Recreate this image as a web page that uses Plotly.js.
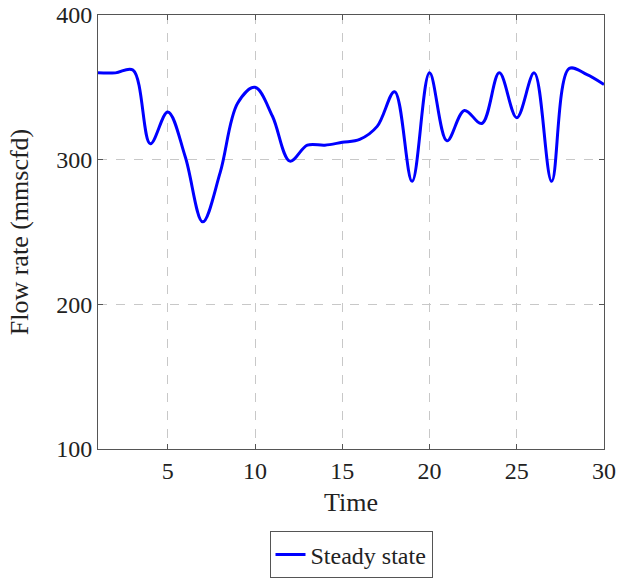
<!DOCTYPE html>
<html>
<head>
<meta charset="utf-8">
<script src="https://cdn.plot.ly/plotly-3.0.1.min.js"></script>
<style>html,body{margin:0;padding:0;background:#fff;}#chart{width:617px;height:580px;}</style>
</head>
<body>
<div id="chart"></div>
<script>
const time = [1,2,3,4,5,6,7,8,9,10,11,12,13,14,15,16,17,18,19,20,21,22,23,24,25,26,27,28,29,30];
const flowRate = [360,360,362,311,333,302,257,291,339,350,330,299,310,310,312,314,323,347,285,360,313,334,325,360,329,360,285,363,359,352];
const seriesName = 'Steady state';
const xTicks = [5,10,15,20,25,30];
const yTicks = [100,200,300,400];

const fontFam = '"Liberation Serif", "Times New Roman", serif';
const axisCommon = {
  showline: true, mirror: 'ticks', linecolor: '#555', linewidth: 1,
  ticks: 'inside', ticklen: 5, tickcolor: '#555', tickwidth: 1,
  showgrid: true, gridcolor: '#c8c8c8', griddash: 'dash', gridwidth: 1,
  zeroline: false,
  tickfont: {family: fontFam, size: 24, color: '#222'}
};

const data = [{
  x: time, y: flowRate, type: 'scatter', mode: 'lines', name: seriesName,
  line: {color: 'rgb(0,0,255)', width: 3, shape: 'spline', smoothing: 1}
}];

const layout = {
  width: 617, height: 580,
  margin: {l: 98, r: 13, t: 15, b: 131, autoexpand: false},
  paper_bgcolor: '#fff', plot_bgcolor: '#fff',
  font: {family: fontFam, color: '#222'},
  showlegend: true,
  xaxis: Object.assign({}, axisCommon, {
    range: [1, 30], tickmode: 'array', tickvals: xTicks, ticktext: xTicks.map(String),
    automargin: false,
    title: {text: 'Time', font: {family: fontFam, size: 26, color: '#222'}, standoff: 10}
  }),
  yaxis: Object.assign({}, axisCommon, {
    range: [100, 400], tickmode: 'array', tickvals: yTicks, ticktext: yTicks.map(String),
    automargin: false,
    title: {text: 'Flow rate (mmscfd)', font: {family: fontFam, size: 26, color: '#222'}, standoff: 20}
  }),
  legend: {
    x: 0.5, xanchor: 'center', y: -0.19, yanchor: 'top',
    orientation: 'h',
    bordercolor: '#555', borderwidth: 1, bgcolor: '#fff',
    font: {family: fontFam, size: 24, color: '#222'}
  }
};

Plotly.newPlot('chart', data, layout, {displayModeBar: false, staticPlot: true});
</script>
</body>
</html>
